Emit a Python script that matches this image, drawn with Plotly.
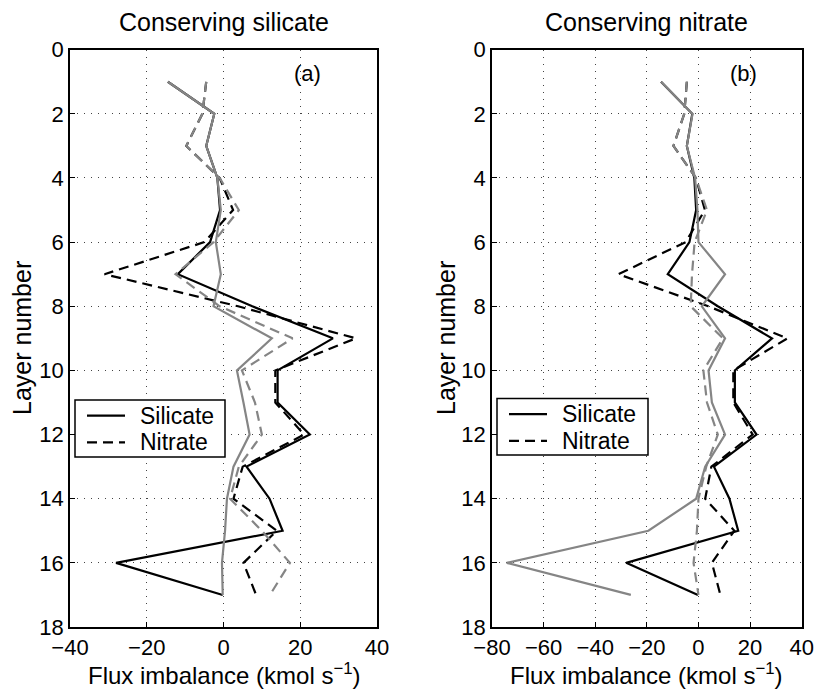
import plotly.graph_objects as go

layers = list(range(1, 18))

# Black lines (same in both panels)
silicate_black = [-14.5, -2.4, -4.5, -1.6, -0.9, -3.5, -11.9, 7.5, 28.5, 14.1, 14.1, 22.5, 6.0, 12.0, 15.4, -28.0, -0.2]
nitrate_black = [-4.5, -5.5, -9.7, -1.0, 2.5, -5.0, -31.0, 3.8, 34.5, 13.5, 13.5, 21.0, 5.0, 2.6, 13.9, 5.2, 8.5]

# Gray lines, panel (a): conserving silicate
silicate_gray_a = [-14.5, -2.4, -4.5, -1.6, -0.7, -2.0, -0.7, -2.6, 12.6, 3.5, 5.2, 6.8, 2.6, 0.9, 0.4, -0.4, -0.2]
nitrate_gray_a = [-4.5, -5.5, -9.7, -1.0, 4.0, -2.6, -12.5, -1.0, 18.0, 4.8, 8.2, 10.0, 4.0, 1.7, 10.0, 17.3, 12.1]

# Gray lines, panel (b): conserving nitrate
silicate_gray_b = [-14.5, -2.3, -4.5, -1.3, -0.4, 0.0, 10.3, 1.3, 10.3, 3.9, 5.2, 10.3, 2.6, -0.9, -19.4, -74.3, -26.2]
nitrate_gray_b = [-4.5, -5.5, -9.7, -1.0, 3.3, -1.5, -2.5, -3.0, 9.5, 1.9, 3.3, 7.5, 3.0, 0.0, -0.6, -1.9, 0.0]

xticks_a = [-40, -20, 0, 20, 40]
xticks_b = [-80, -60, -40, -20, 0, 20, 40]
yticks = list(range(0, 19, 2))
legend_labels = ["Silicate", "Nitrate"]

FONT = "Liberation Sans, Arial, Helvetica, sans-serif"
BLACK = "#000000"
GRAY = "#858585"
DASH = "10px,6px"
LW = 2.2

fig = go.Figure()

def add_panel(xa, ya, sg, ng):
    fig.add_trace(go.Scatter(x=silicate_black, y=layers, mode="lines", name="Silicate",
                             line=dict(color=BLACK, width=LW), xaxis=xa, yaxis=ya, showlegend=False))
    fig.add_trace(go.Scatter(x=nitrate_black, y=layers, mode="lines", name="Nitrate",
                             line=dict(color=BLACK, width=LW, dash=DASH), xaxis=xa, yaxis=ya,
                             showlegend=False))
    fig.add_trace(go.Scatter(x=sg, y=layers, mode="lines", name="Silicate (gray)",
                             line=dict(color=GRAY, width=LW), xaxis=xa, yaxis=ya, showlegend=False))
    fig.add_trace(go.Scatter(x=ng, y=layers, mode="lines", name="Nitrate (gray)",
                             line=dict(color=GRAY, width=LW, dash=DASH), xaxis=xa, yaxis=ya,
                             showlegend=False))

add_panel("x", "y", silicate_gray_a, nitrate_gray_a)
add_panel("x2", "y2", silicate_gray_b, nitrate_gray_b)

W, H = 815, 692
ytop = 1 - 49.7 / H
ybot = 1 - 627.0 / H

axis_common = dict(
    showline=True, linecolor="black", linewidth=1.5, mirror=True,
    ticks="inside", ticklen=5, tickcolor="black", tickwidth=1,
    showgrid=True, gridcolor="#444444", griddash="1px,6px", gridwidth=1,
    zeroline=False, automargin=False,
    tickfont=dict(family=FONT, size=22, color="black"),
)

fig.update_layout(
    width=W, height=H,
    margin=dict(l=0, r=0, t=0, b=0, autoexpand=False),
    paper_bgcolor="white", plot_bgcolor="white",
    font=dict(family=FONT, color="black"),
    showlegend=False,
    xaxis=dict(domain=[70 / W, 377 / W], range=[-40, 40], tickvals=xticks_a,
               ticktext=[str(v).replace("-", "\u2212") for v in xticks_a], anchor="y", **axis_common),
    yaxis=dict(domain=[ybot, ytop], range=[18, 0], tickvals=yticks, anchor="x", **axis_common),
    xaxis2=dict(domain=[492 / W, 801.7 / W], range=[-80, 40], tickvals=xticks_b,
                ticktext=[str(v).replace("-", "\u2212") for v in xticks_b], anchor="y2", **axis_common),
    yaxis2=dict(domain=[ybot, ytop], range=[18, 0], tickvals=yticks, anchor="x2", **axis_common),
)

ann = []
shapes = []
TS = 25

def px(xp):
    return xp / W

def py(yp):
    return 1 - yp / H

# Titles
ann.append(dict(text="Conserving silicate", x=px(224), y=py(22), xref="paper", yref="paper",
                showarrow=False, font=dict(family=FONT, size=TS), xanchor="center", yanchor="middle"))
ann.append(dict(text="Conserving nitrate", x=px(646), y=py(22), xref="paper", yref="paper",
                showarrow=False, font=dict(family=FONT, size=TS), xanchor="center", yanchor="middle"))
# Axis titles
for cx in (224, 646):
    ann.append(dict(text="Flux imbalance (kmol s<sup>\u22121</sup>)", x=px(cx), y=py(674),
                    xref="paper", yref="paper", showarrow=False,
                    font=dict(family=FONT, size=24), xanchor="center", yanchor="middle"))
for cx in (22, 446):
    ann.append(dict(text="Layer number", x=px(cx), y=py(338), xref="paper", yref="paper",
                    showarrow=False, textangle=-90, font=dict(family=FONT, size=TS),
                    xanchor="center", yanchor="middle"))
# Panel labels
ann.append(dict(text="(a)", x=22, y=0.75, xref="x", yref="y", showarrow=False,
                font=dict(family=FONT, size=22), xanchor="center", yanchor="middle"))
ann.append(dict(text="(b)", x=17.5, y=0.75, xref="x2", yref="y2", showarrow=False,
                font=dict(family=FONT, size=22), xanchor="center", yanchor="middle"))

# Legend boxes (one per panel)
for (bx0, by0, bx1, by1) in ((75, 400, 225, 457), (497, 398.5, 648, 455)):
    shapes.append(dict(type="rect", xref="paper", yref="paper",
                       x0=px(bx0), x1=px(bx1), y0=py(by0), y1=py(by1),
                       line=dict(color="black", width=1.5), fillcolor="white", layer="above"))
    rows = [(by0 + 15.7, None), (by0 + 42.3, DASH)]
    for (label, (ry, dash)) in zip(legend_labels, rows):
        shapes.append(dict(type="line", xref="paper", yref="paper",
                           x0=px(bx0 + 12), x1=px(bx0 + 50), y0=py(ry), y1=py(ry),
                           line=dict(color=BLACK, width=LW, dash=dash) if dash else
                           dict(color=BLACK, width=LW), layer="above"))
        ann.append(dict(text=label, x=px(bx0 + 63), y=py(ry), xref="paper", yref="paper",
                        showarrow=False, font=dict(family=FONT, size=23),
                        xanchor="left", yanchor="middle"))

fig.update_layout(annotations=ann, shapes=shapes)

fig.write_html("out.html")
